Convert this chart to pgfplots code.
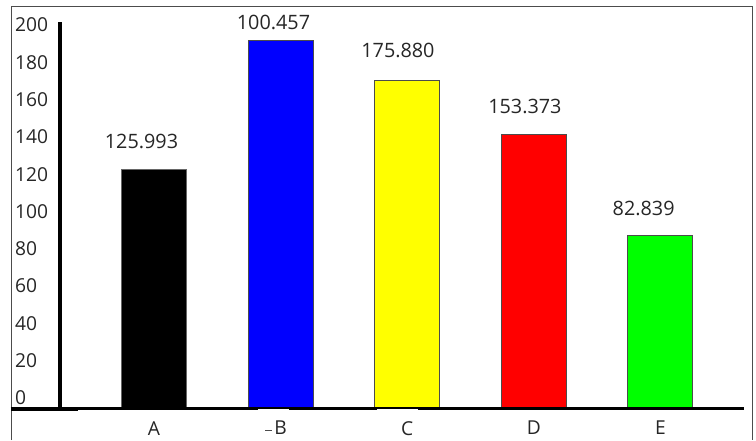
\documentclass[border=0pt]{standalone}
\usepackage{pgfplots}
\pgfplotsset{compat=1.18}
\usepackage{fontspec}
\setmainfont{Open Sans}
\definecolor{cY}{RGB}{255,255,0}
\definecolor{cG}{RGB}{0,255,0}
\definecolor{cB}{RGB}{0,0,255}
\definecolor{cR}{RGB}{255,0,0}
\begin{document}
\begin{tikzpicture}[x=0.5pt,y=0.5pt]
\path[use as bounding box] (0,0) rectangle (756,440);
\draw[black!70, line width=0.5pt] (11,0) -- (11,433) -- (752,433) -- (752,0);
\begin{axis}[
  at={(5.5pt,15.75pt)}, anchor=south west, scale only axis,
  width=368.5pt, height=200.75pt,
  xmin=-1.1295, xmax=4.692, ymin=0, ymax=215.3,
  axis line style={draw=none}, major tick length=0pt,
  xtick={0,1,2,3,4}, xticklabels={A,B,C,D,E},
  ytick={0,20,...,200},
  yticklabel style={anchor=west, yshift=5.25pt, xshift=-1.5pt},
  xticklabel style={yshift=-2.85pt},
  ticklabel style={font=\fontsize{9.6}{11}\selectfont, text=black!85},
  /pgf/number format/assume math mode=true,
  clip=false,
  ybar, bar width=32.5pt, bar shift=0pt,
]
\addplot[fill=black, draw=black!60, line width=0.5pt] coordinates {(0,128.3)};
\addplot[fill=cB, draw=black!70, line width=0.5pt] coordinates {(1,197.1)};
\addplot[fill=cY, draw=black!70, line width=0.5pt] coordinates {(2,176.1)};
\addplot[fill=cR, draw=black!70, line width=0.5pt] coordinates {(3,147.0)};
\addplot[fill=cG, draw=black!70, line width=0.5pt] coordinates {(4,92.7)};
% axes
\draw[line width=1.5pt] (axis cs:-1.1295,0) -- (axis cs:4.66,0);
\draw[line width=2pt] (axis cs:-1.1295,-0.2) -- (axis cs:-0.60,-0.2);
\draw[line width=2pt] (axis cs:-0.746,-0.8) -- (axis cs:-0.746,207.2);
% gaps in baseline
\fill[white] (axis cs:0.822,-0.3) rectangle (axis cs:1.067,-1.4);
\fill[white] (axis cs:1.762,-0.3) rectangle (axis cs:2.085,-1.4);
\draw[black!70, line width=0.4pt] (axis cs:0.877,-11.8) -- (axis cs:0.935,-11.8);
% value labels
\begin{scope}[every node/.style={font=\fontsize{9.9}{12}\selectfont, text=black!85}]
\node at (axis cs:-0.0987,143.1) {125.993};
\node at (axis cs:0.944,207.2) {100.457};
\node at (axis cs:1.927,192.2) {175.880};
\node at (axis cs:2.930,162.2) {153.373};
\node at (axis cs:3.868,107.0) {82.839};
\end{scope}
\end{axis}
\end{tikzpicture}
\end{document}
